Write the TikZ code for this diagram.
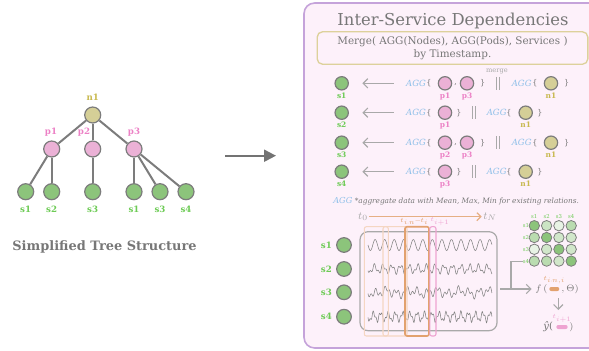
\documentclass[tikz,border=0pt]{standalone}
\usepackage{fontspec}
\setmainfont{DejaVu Serif}
\usepackage{xcolor}
\usepackage{tikz}
\usetikzlibrary{arrows.meta}
\usetikzlibrary{positioning}
\usepackage{amsmath}

\definecolor{borde}{HTML}{7C7C7C}
\definecolor{nodo}{HTML}{D5CF97}
\definecolor{pod}{HTML}{EBB1D6}
\definecolor{svc}{HTML}{8CC47B}
\definecolor{nodotxt}{HTML}{C8B94F}
\definecolor{podtxt}{HTML}{EC80C5}
\definecolor{svctxt}{HTML}{6DCB55}
\definecolor{gristxt}{HTML}{777777}
\definecolor{grisclaro}{HTML}{A9A9A9}
\definecolor{panelfondo}{HTML}{FDF1FA}
\definecolor{panelborde}{HTML}{C5A3DA}
\definecolor{mergeborde}{HTML}{DDD19B}
\definecolor{aggazul}{HTML}{8FC0E9}
\definecolor{naranja}{HTML}{E2A16E}
\definecolor{naranjaclaro}{HTML}{F5D6C2}
\definecolor{rosa}{HTML}{EEA3D1}

\begin{document}
\begin{tikzpicture}[x=0.75pt, y=-0.75pt,
    bola/.style={circle, draw=borde, line width=0.9pt, minimum size=12pt, inner sep=0pt},
    bolita/.style={bola, minimum size=10pt},
    celda/.style={circle, draw=borde, line width=0.6pt, minimum size=7.8pt, inner sep=0pt},
    etq/.style={font=\bfseries\fontsize{6.5}{7}\selectfont, inner sep=0pt},
    etqch/.style={font=\bfseries\fontsize{5.6}{6}\selectfont, inner sep=0pt},
    etqmin/.style={font=\fontsize{4}{4}\selectfont, text=svctxt, inner sep=0pt},
    agg/.style={font=\itshape\fontsize{6.4}{7}\selectfont, text=aggazul, inner sep=0pt},
    llave/.style={font=\fontsize{6}{7}\selectfont, text=gristxt, inner sep=0pt},
    rama/.style={draw=borde, line width=1.5pt},
    flecha/.style={draw=grisclaro, line width=0.9pt, -{Straight Barb[length=3.5pt,width=7pt]}},
    barra/.style={draw=grisclaro, line width=0.8pt},
    ventana/.style={rounded corners=1.5pt, line width=0.8pt},
    onda/.style={draw=gray, line width=0.4pt}
]
    \clip (0,0) rectangle (589,350);

    % Arbol simplificado (izquierda)
    \node[bola, fill=nodo] (n1) at (92.7,115) {};
    \foreach \i/\x in {1/51.7, 2/92.7, 3/134}
        \node[bola, fill=pod] (p\i) at (\x,149) {};
    \foreach \i/\x in {1/25.7, 2/51.7, 3/92.7, 4/134, 5/160, 6/186}
        \node[bola, fill=svc] (h\i) at (\x,191.7) {};

    % Aristas
    \foreach \a/\b in {n1/p1, n1/p2, n1/p3, p1/h1, p1/h2, p2/h3, p3/h4, p3/h5, p3/h6}
        \draw[rama] (\a) -- (\b);

    % Etiquetas del arbol
    \node[etq, text=nodotxt] (en1) at (92.7,97) {n1};
    \foreach \i/\x in {1/51, 2/84, 3/134}
        \node[etq, text=podtxt] (ep\i) at (\x,132) {p\i};
    \foreach \i/\x/\t in {1/25.7/s1, 2/51.7/s2, 3/92.7/s3, 4/134/s1, 5/160/s3, 6/186/s4}
        \node[etq, text=svctxt] (eh\i) at (\x,209) {\t};

    % Titulo
    \node[font=\bfseries\fontsize{9.7}{11}\selectfont, text=gristxt] (tarbol) at (104.5,246.7) {Simplified Tree Structure};

    % Flecha central
    \coordinate (ini) at (225,155.7);
    \coordinate (fin) at (276,155.7);
    \draw[draw=gray!90!black, line width=1.6pt, -{Triangle[length=9pt,width=9pt]}] (ini) -- (fin);

    % Panel derecho
    \draw[draw=panelborde, fill=panelfondo, line width=1.2pt, rounded corners=8pt] (304,3) rectangle (600,348);
    \node[font=\fontsize{12.3}{13}\selectfont, text=gristxt] (titulo) at (453,21) {Inter-Service Dependencies};
    \node[draw=mergeborde, line width=1pt, rounded corners=4pt, minimum width=203pt, minimum height=22.5pt,
          align=center, font=\fontsize{7.8}{10}\selectfont, text=gristxt] (merge) at (452.5,48)
          {Merge( AGG(Nodes), AGG(Pods), Services )\\by Timestamp.};
    \node[font=\fontsize{5}{5}\selectfont, text=grisclaro] (tmerge) at (497,71) {merge};

    % Filas con dos pods
    \foreach \f/\y/\pa/\pb in {1/83.3/1/3, 3/142.7/2/3} {
        \node[bolita, fill=svc, label={[etqch, text=svctxt, label distance=1.5pt]below:s\f}] (s\f) at (341.7,\y) {};
        \node[agg] (a\f) at (416,\y) {AGG};
        \node[llave] (la\f) at (429,\y) {\{};
        \node[bolita, fill=pod, label={[etqch, text=podtxt, label distance=1.5pt]below:p\pa}] (pa\f) at (445,\y) {};
        \node[llave] (c\f) at (455.7,\y+1.5) {,};
        \node[bolita, fill=pod, label={[etqch, text=podtxt, label distance=1.5pt]below:p\pb}] (pb\f) at (467,\y) {};
        \node[llave] (lc\f) at (482.7,\y) {\}};
        \draw[barra] (496.8,\y-6.5) -- (496.8,\y+6.5) (499.8,\y-6.5) -- (499.8,\y+6.5);
        \node[agg] (b\f) at (521.7,\y) {AGG};
        \node[llave] (lb\f) at (535,\y) {\{};
        \node[bolita, fill=nodo, label={[etqch, text=nodotxt, label distance=1.5pt]below:n1}] (n\f) at (551,\y) {};
        \node[llave] (ld\f) at (566.7,\y) {\}};
        \draw[flecha, shorten <=9pt, shorten >=10pt] (a\f.west) -- (s\f.east);
    }

    % Filas con un pod
    \foreach \f/\y/\pa in {2/112.7/1, 4/171.7/3} {
        \node[bolita, fill=svc, label={[etqch, text=svctxt, label distance=1.5pt]below:s\f}] (s\f) at (341.7,\y) {};
        \node[agg] (a\f) at (416,\y) {AGG};
        \node[llave] (la\f) at (429,\y) {\{};
        \node[bolita, fill=pod, label={[etqch, text=podtxt, label distance=1.5pt]below:p\pa}] (pa\f) at (445,\y) {};
        \node[llave] (lc\f) at (459,\y) {\}};
        \draw[barra] (472.5,\y-6.5) -- (472.5,\y+6.5) (475.5,\y-6.5) -- (475.5,\y+6.5);
        \node[agg] (b\f) at (496.7,\y) {AGG};
        \node[llave] (lb\f) at (509,\y) {\{};
        \node[bolita, fill=nodo, label={[etqch, text=nodotxt, label distance=1.5pt]below:n1}] (n\f) at (525.7,\y) {};
        \node[llave] (ld\f) at (540,\y) {\}};
        \draw[flecha, shorten <=9pt, shorten >=10pt] (a\f.west) -- (s\f.east);
    }

    % Nota
    \node[anchor=west, font=\itshape\fontsize{5.5}{6}\selectfont, text=gristxt, inner sep=0pt] (nota) at (333,201.7)
        {{\fontsize{6.2}{7}\selectfont\textcolor{aggazul}{AGG}} *aggregate data with Mean, Max, Min for existing relations.};

    % Eje temporal
    \node[font=\fontsize{8}{8}\selectfont, text=grisclaro, inner sep=1pt] (t0) at (363,216.7) {$t_0$};
    \node[font=\fontsize{8}{8}\selectfont, text=grisclaro, inner sep=1pt] (tN) at (490,216.7) {$t_N$};
    \draw[draw=naranja!85, line width=0.9pt, -{Straight Barb[length=3pt,width=6pt]}] (t0) -- (tN);

    % Series de servicios
    \foreach \f/\y in {1/245, 2/269, 3/292.3, 4/316.7}
        \node[bola, minimum size=11pt, fill=svc, label={[etq, text=svctxt, label distance=3pt]left:s\f}] (q\f) at (344,\y) {};
    \node[draw=grisclaro, rounded corners=6pt, line width=0.9pt, minimum width=102.75pt, minimum height=74.25pt, inner sep=0pt] (serie) at (428.5,281.2) {};
    \draw[onda] plot[domain=0:1, samples=300] ({368+124*\x}, {245 + 5.5*sin(13*360*\x)});
    \draw[onda] plot[domain=0:1, samples=300] ({368+124*\x}, {269 + 3.5*sin(14.3*360*\x) + 2*sin(31*360*\x + 60)});
    \draw[onda] plot[domain=0:1, samples=300] ({368+124*\x}, {292.3 + 3*sin(12*360*\x) + 2.5*sin(27*360*\x + 30) + 1.5*sin(5*360*\x)});
    \draw[onda] plot[domain=0:1, samples=300] ({368+124*\x}, {316.7 + 4*sin(17*360*\x) + 2*sin(41*360*\x + 20)});

    % Ventanas
    \draw[ventana, draw=naranjaclaro] (364.3,226.7) rectangle (388.3,336);
    \draw[ventana, draw=naranjaclaro] (383,226.7) rectangle (407,336);
    \draw[ventana, draw=naranja, line width=1.2pt] (405,226.7) rectangle (429,336);
    \draw[ventana, draw=rosa] (429.8,226.7) rectangle (436,336);
    \node[font=\fontsize{3.8}{4}\selectfont, text=naranja, inner sep=0pt, anchor=east] (tv) at (428.6,221.5) {$t_{i\text{-}n}$---$t_i$};
    \node[font=\fontsize{3.8}{4}\selectfont, text=rosa, inner sep=0pt, anchor=west] (tv1) at (430,221.5) {$t_{i+1}$};

    % Matriz de relaciones
    \foreach \c in {1,...,4}
        \node[etqmin] (cm\c) at ({534.3+(\c-1)*12.3},216.7) {s\c};
    \foreach \r in {1,...,4}
        \node[etqmin] (fm\r) at (526,{225.7+(\r-1)*11.8}) {s\r};
    \foreach \r/\c/\v in {1/1/100, 1/2/45, 1/3/20, 1/4/60,
                          2/1/60, 2/2/100, 2/3/40, 2/4/40,
                          3/1/20, 3/2/40, 3/3/100, 3/4/40,
                          4/1/60, 4/2/60, 4/3/40, 4/4/100}
        \node[celda, fill=svc!\v!white] (m\r\c) at ({534.3+(\c-1)*12.3},{225.7+(\r-1)*11.8}) {};

    % Prediccion
    \node[font=\fontsize{7.5}{8}\selectfont, text=gristxt, inner sep=0.5pt, anchor=east] (fl) at (548.5,289) {$f\,($};
    \node[fill=naranja, rounded corners=1.5pt, minimum width=7.5pt, minimum height=3pt, inner sep=0pt] (fp) at (554.3,289) {};
    \node[font=\fontsize{7.5}{8}\selectfont, text=gristxt, inner sep=0.5pt, anchor=west] (fr) at (560.5,289) {$,\Theta)$};
    \node[font=\fontsize{4}{4}\selectfont, text=naranja, inner sep=0pt] (tfp) at (554.3,280) {$t_{i\text{-}n,i}$};
    \coordinate (cruce) at (511,289);
    \draw[flecha, shorten <=2pt, shorten >=2pt] (serie.east |- fl) -- (fl.west);
    \draw[draw=grisclaro, line width=0.9pt] (fm4.west) -| (cruce);
    \coordinate (bajo1) at (558.3,298);
    \coordinate (bajo2) at (558.3,310);
    \draw[flecha] (bajo1) -- (bajo2);
    \node[font=\fontsize{7.5}{8}\selectfont, text=gristxt, inner sep=0.5pt, anchor=east] (yl) at (554,327) {\textit{ŷ}(};
    \node[fill=rosa, rounded corners=1.5pt, minimum width=8.5pt, minimum height=3pt, inner sep=0pt] (yp) at (562,327) {};
    \node[font=\fontsize{7.5}{8}\selectfont, text=gristxt, inner sep=0.5pt, anchor=west] (yr) at (568.5,327) {$)$};
    \node[font=\fontsize{4}{4}\selectfont, text=rosa, inner sep=0pt] (typ) at (562,318.5) {$t_{i+1}$};
\end{tikzpicture}
\end{document}
